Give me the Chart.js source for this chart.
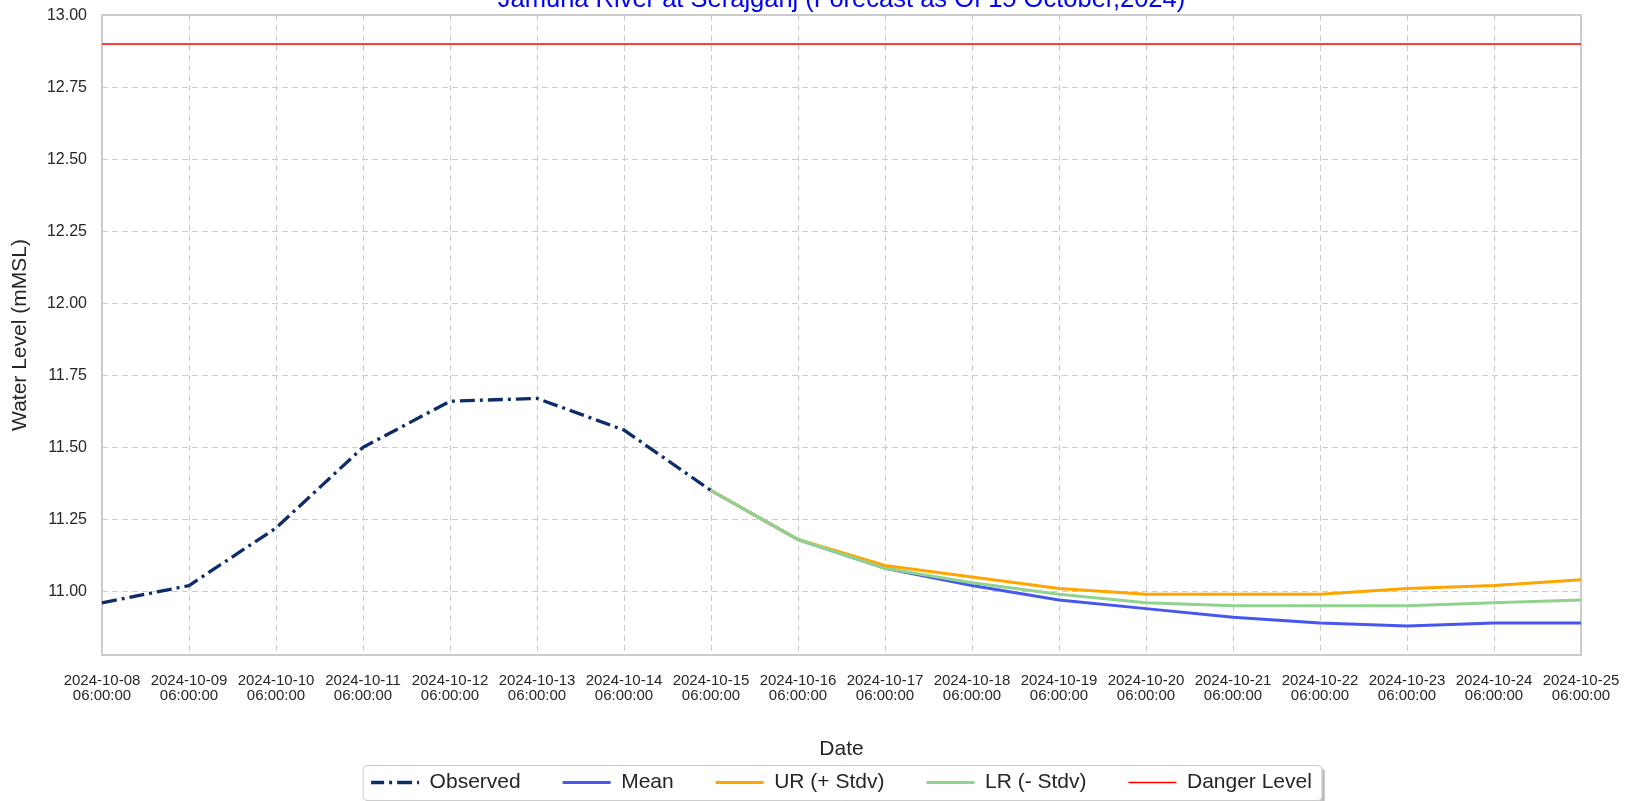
<!DOCTYPE html>
<html>
<head>
<meta charset="utf-8">
<title>Jamuna River at Serajganj</title>
<script src="https://cdn.jsdelivr.net/npm/chart.js@4.4.1/dist/chart.umd.min.js"></script>
<style>
html, body { margin: 0; padding: 0; background: #fff; }
</style>
</head>
<body>
<canvas id="chart" width="1626" height="801"></canvas>
<script>
// ================= DỮ LIỆU =================
let dates = ['2024-10-08', '2024-10-09', '2024-10-10', '2024-10-11', '2024-10-12', '2024-10-13',
  '2024-10-14', '2024-10-15', '2024-10-16', '2024-10-17', '2024-10-18', '2024-10-19',
  '2024-10-20', '2024-10-21', '2024-10-22', '2024-10-23', '2024-10-24', '2024-10-25'];
let timeOfDay = '06:00:00';

let observed = [10.96, 11.02, 11.22, 11.50, 11.66, 11.67, 11.56, 11.35,
  null, null, null, null, null, null, null, null, null, null];
let mean = [null, null, null, null, null, null, null,
  11.35, 11.18, 11.08, 11.02, 10.97, 10.94, 10.91, 10.89, 10.88, 10.89, 10.89];
let upper = [null, null, null, null, null, null, null,
  11.35, 11.18, 11.09, 11.05, 11.01, 10.99, 10.99, 10.99, 11.01, 11.02, 11.04];
let lower = [null, null, null, null, null, null, null,
  11.35, 11.18, 11.08, 11.03, 10.99, 10.96, 10.95, 10.95, 10.95, 10.96, 10.97];
let dangerLevel = 12.90;

let yTicks = [11.00, 11.25, 11.50, 11.75, 12.00, 12.25, 12.50, 12.75, 13.00];
let yMin = 10.779;
let yMax = 13.001;

let titleText = 'Jamuna River at Serajganj (Forecast as Of 15 October,2024)';

// ================= KIỂU =================
let FONT = "'Liberation Sans', Arial, sans-serif";
let TEXT = '#262626';
let GRID = '#cccccc';

// khung quanh vùng vẽ
let framePlugin = {
  id: 'frame',
  beforeDatasetsDraw(chart) {
    let a = chart.chartArea;
    let ctx = chart.ctx;
    ctx.save();
    ctx.strokeStyle = GRID;
    ctx.lineWidth = 2;
    ctx.strokeRect(a.left, a.top, a.right - a.left, a.bottom - a.top);
    ctx.restore();
  }
};

// tiêu đề bị cắt ở mép trên
let titlePlugin = {
  id: 'topTitle',
  afterDraw(chart) {
    let a = chart.chartArea;
    let ctx = chart.ctx;
    ctx.save();
    ctx.font = '25.5px ' + FONT;
    ctx.fillStyle = '#0000ff';
    ctx.textAlign = 'center';
    ctx.textBaseline = 'alphabetic';
    ctx.fillText(titleText, (a.left + a.right) / 2, 7);
    ctx.restore();
  }
};

// khung chú thích có bóng
let legendBoxPlugin = {
  id: 'legendBox',
  beforeDraw(chart) {
    let hb = chart.legend && chart.legend.legendHitBoxes;
    if (!hb || !hb.length) return;
    let first = hb[0];
    let last = hb[hb.length - 1];
    let x0 = first.left - 8;
    let x1 = last.left + last.width + 10;
    let cy = first.top + first.height / 2;
    let y0 = cy - 17;
    let y1 = cy + 18;
    let ctx = chart.ctx;
    ctx.save();
    ctx.fillStyle = 'rgba(0,0,0,0.25)';
    ctx.beginPath();
    ctx.roundRect(x0 + 3, y0 + 3, x1 - x0, y1 - y0, 4);
    ctx.fill();
    ctx.fillStyle = '#ffffff';
    ctx.strokeStyle = GRID;
    ctx.lineWidth = 1;
    ctx.beginPath();
    ctx.roundRect(x0, y0, x1 - x0, y1 - y0, 4);
    ctx.fill();
    ctx.stroke();
    ctx.restore();
  }
};

let labels = dates.map(d => [d, timeOfDay]);

let chart = new Chart(document.getElementById('chart').getContext('2d'), {
  type: 'line',
  data: {
    labels: labels,
    datasets: [
      {
        label: 'Observed',
        data: observed,
        borderColor: '#0d2c6c',
        borderWidth: 3.3,
        borderDash: [15, 5, 3, 5],
        order: 4
      },
      {
        label: 'Mean',
        data: mean,
        borderColor: '#4657f0',
        borderWidth: 3,
        order: 3
      },
      {
        label: 'UR (+ Stdv)',
        data: upper,
        borderColor: '#ffa500',
        borderWidth: 3,
        order: 2
      },
      {
        label: 'LR (- Stdv)',
        data: lower,
        borderColor: '#90d38f',
        borderWidth: 3,
        order: 1
      },
      {
        label: 'Danger Level',
        data: dates.map(() => dangerLevel),
        borderColor: '#ff0000',
        borderWidth: 1.5,
        order: 0
      }
    ]
  },
  options: {
    responsive: false,
    animation: false,
    devicePixelRatio: 1,
    elements: {
      point: { radius: 0, hoverRadius: 0 },
      line: { tension: 0, fill: false, borderCapStyle: 'butt' }
    },
    layout: { padding: { left: 0, right: 45, top: 15, bottom: -2 } },
    plugins: {
      tooltip: { enabled: false },
      title: { display: false },
      legend: {
        position: 'bottom',
        fullSize: false,
        labels: {
          usePointStyle: true,
          pointStyle: 'line',
          pointStyleWidth: 48,
          padding: 42,
          color: TEXT,
          font: { family: FONT, size: 21 },
          sort: (a, b) => a.datasetIndex - b.datasetIndex,
          // lấy nét đứt của dataset cho mẫu chú thích
          generateLabels(chart) {
            let items = Chart.defaults.plugins.legend.labels.generateLabels(chart);
            items.forEach(it => {
              let ds = chart.data.datasets[it.datasetIndex];
              it.lineDash = ds.borderDash || [];
              it.lineDashOffset = ds.borderDash ? 2 : 0;
            });
            return items;
          }
        }
      }
    },
    scales: {
      x: {
        offset: false,
        grid: { color: GRID, lineWidth: 1, drawTicks: false },
        border: { display: false, dash: [6, 4] },
        ticks: {
          autoSkip: false,
          maxRotation: 0,
          minRotation: 0,
          padding: 19,
          color: TEXT,
          font: { family: FONT, size: 15, lineHeight: 0.95 }
        },
        title: {
          display: true,
          text: 'Date',
          color: TEXT,
          font: { family: FONT, size: 21 },
          padding: { top: 0, bottom: -32 }
        },
        afterFit(scale) {
          scale.height = 75;
          scale.paddingLeft = 0;
          scale.paddingRight = 0;
        }
      },
      y: {
        min: yMin,
        max: yMax,
        grid: { color: GRID, lineWidth: 1, drawTicks: false },
        border: { display: false, dash: [6, 4] },
        ticks: {
          padding: 15,
          color: TEXT,
          font: { family: FONT, size: 16 },
          callback: v => Number(v).toFixed(2)
        },
        afterBuildTicks(scale) {
          scale.ticks = yTicks.map(v => ({ value: v }));
        },
        title: {
          display: true,
          text: 'Water Level (mMSL)',
          color: TEXT,
          font: { family: FONT, size: 21 },
          padding: { top: 8, bottom: 0 }
        },
        afterFit(scale) {
          scale.width = 102;
          scale.paddingTop = 0;
          scale.paddingBottom = 0;
        }
      }
    }
  },
  plugins: [legendBoxPlugin, framePlugin, titlePlugin]
});
</script>
</body>
</html>
